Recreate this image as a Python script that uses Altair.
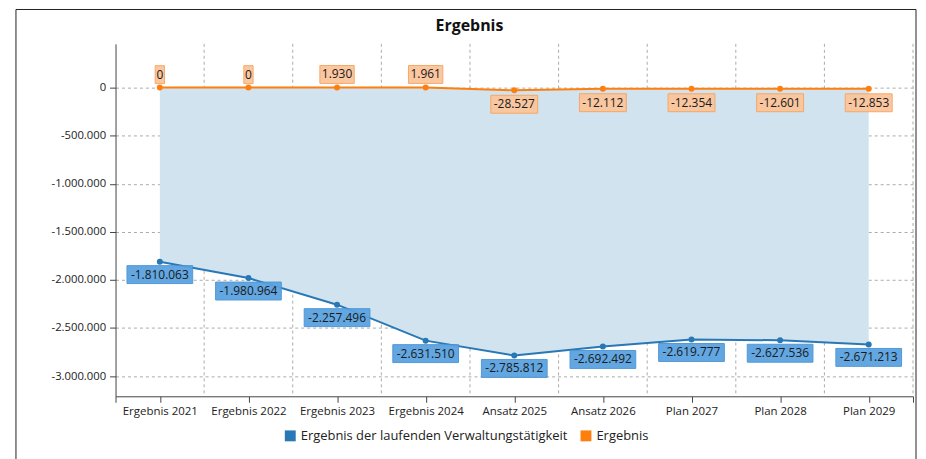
import json
import altair as alt
import pandas as pd

categories = ["Ergebnis 2021", "Ergebnis 2022", "Ergebnis 2023", "Ergebnis 2024",
              "Ansatz 2025", "Ansatz 2026", "Plan 2027", "Plan 2028", "Plan 2029"]
laufend = [-1810063, -1980964, -2257496, -2631510, -2785812,
           -2692492, -2619777, -2627536, -2671213]
ergebnis = [0, 0, 1930, 1961, -28527, -12112, -12354, -12601, -12853]
series_names = ["Ergebnis der laufenden Verwaltungstätigkeit", "Ergebnis"]
series_colors = ["#2878b5", "#ff7f0e"]
y_ticks = [0, -500000, -1000000, -1500000, -2000000, -2500000, -3000000]

FONT = "Open Sans"
idx = list(range(len(categories)))
n = len(categories)

wide = pd.DataFrame({"idx": idx, "cat": categories, "laufend": laufend, "ergebnis": ergebnis})
long = pd.concat([
    pd.DataFrame({"idx": idx, "series": series_names[0], "value": laufend}),
    pd.DataFrame({"idx": idx, "series": series_names[1], "value": ergebnis}),
])
bounds = pd.DataFrame({"b": [i + 0.5 for i in idx]})

de_fmt = ("replace(replace(format(datum.value, ','), regexp(',', 'g'), '.'), "
          "'\u2212', '-')")
cats_js = json.dumps(categories)

xscale = alt.Scale(domain=[-0.5, n - 0.5], nice=False, zero=False)
yscale = alt.Scale(domain=[-3210000, 455000], nice=False, zero=False)

X = alt.X("idx:Q", scale=xscale, axis=alt.Axis(
    values=[-0.5] + idx + [n - 0.5],
    labelExpr="isValid(" + cats_js + "[datum.value]) ? " + cats_js + "[datum.value] : ''",
    grid=False, title=None, domainColor="#444", tickColor="#444", tickSize=6,
    labelFont=FONT, labelFontSize=11.5, labelColor="#222", labelPadding=3))

Y = alt.Y("value:Q", scale=yscale, axis=alt.Axis(
    values=y_ticks, labelExpr=de_fmt, grid=True, gridDash=[3, 3], gridColor="#aaaaaa",
    title=None, domainColor="#444", tickColor="#444", tickSize=6,
    labelFont=FONT, labelFontSize=11.3, labelColor="#222", labelPadding=4))

color = alt.Color("series:N", scale=alt.Scale(domain=series_names, range=series_colors),
                  legend=alt.Legend(title=None, orient="none", legendX=169, legendY=387,
                                    direction="horizontal", symbolType="square",
                                    symbolSize=120, symbolStrokeWidth=0, labelLimit=0,
                                    labelFont=FONT, labelFontSize=13, labelColor="#222",
                                    columnPadding=12))

base = alt.Chart(long)

vgrid = alt.Chart(bounds).mark_rule(color="#aaaaaa", strokeDash=[3, 3], strokeWidth=1).encode(
    x=alt.X("b:Q", scale=xscale), y=alt.value(0), y2=alt.value(354))

area = alt.Chart(wide).mark_area(color="#d2e3f0", opacity=1).encode(
    x=alt.X("idx:Q", scale=xscale),
    y=alt.Y("laufend:Q", scale=yscale),
    y2="ergebnis:Q")

lines = base.mark_line(strokeWidth=2).encode(x=X, y=Y, color=color)
points = base.mark_circle(size=36, opacity=1).encode(x=X, y=Y, color=color)

lab = base.transform_calculate(
    lbl=de_fmt,
    hw="(6.3*length(" + de_fmt + ")+3)/178",
).transform_calculate(x1="datum.idx - datum.hw", x2="datum.idx + datum.hw")

blue = lab.transform_filter(alt.datum.series == series_names[0])
org_pos = lab.transform_filter((alt.datum.series == series_names[1]) & (alt.datum.value >= 0))
org_neg = lab.transform_filter((alt.datum.series == series_names[1]) & (alt.datum.value < 0))


def boxes(src, y0, y1, fill, stroke, opacity):
    r = src.mark_rect(yOffset=y0, y2Offset=y1, fill=fill, stroke=stroke,
                      strokeWidth=1, opacity=opacity).encode(
        x=alt.X("x1:Q", scale=xscale), x2="x2:Q",
        y=alt.Y("value:Q", scale=yscale), y2="value:Q")
    t = src.mark_text(dy=(y0 + y1) / 2, font=FONT, fontSize=12, color="#1a1a1a",
                      baseline="middle", align="center").encode(
        x=alt.X("idx:Q", scale=xscale), y=alt.Y("value:Q", scale=yscale), text="lbl:N")
    return [r, t]


frame = alt.Chart(alt.Data(values=[{}])).mark_rect(
    fill="transparent", stroke="#222", strokeWidth=1).encode(
    x=alt.value(-100), x2=alt.value(804), y=alt.value(-34.5), y2=alt.value(480))

layers = [frame, vgrid, area, lines, points]
layers += boxes(blue, 4, 22, "#5aa3e0", "#4a93d4", 0.95)
layers += boxes(org_pos, -22, -4, "#fbc59b", "#f7a45e", 0.95)
layers += boxes(org_neg, 5, 23, "#fbc59b", "#f7a45e", 0.95)

chart = alt.layer(*layers).properties(
    width=801, height=354,
    title=alt.TitleParams("Ergebnis", font=FONT, fontSize=16, fontWeight="bold",
                          color="#111", anchor="middle", dx=-45, offset=-25, frame="group"),
    padding={"left": 108, "top": 35, "right": 5, "bottom": 62},
    autosize=alt.AutoSizeParams(type="none"),
    background="white",
).configure_view(stroke=None)

chart.save("out.html", embed_options={"renderer": "svg", "actions": False})
